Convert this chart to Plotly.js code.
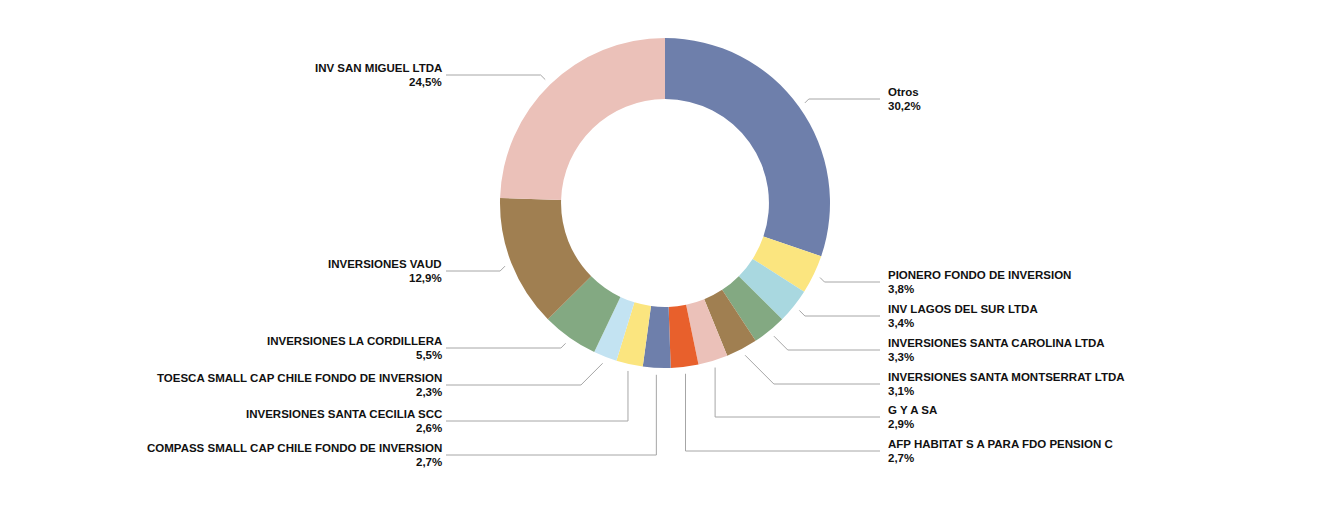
<!DOCTYPE html>
<html>
<head>
<meta charset="utf-8">
<script src="https://cdn.plot.ly/plotly-3.0.1.min.js"></script>
<style>
  html, body { margin: 0; padding: 0; background: #ffffff; }
  #chart { width: 1330px; height: 507px; }
</style>
</head>
<body>
<div id="chart"></div>
<script>
// ---- data ----
const categories = [
  "Otros",
  "PIONERO FONDO DE INVERSION",
  "INV LAGOS DEL SUR LTDA",
  "INVERSIONES SANTA CAROLINA LTDA",
  "INVERSIONES SANTA MONTSERRAT LTDA",
  "G Y A SA",
  "AFP HABITAT S A PARA FDO PENSION C",
  "COMPASS SMALL CAP CHILE FONDO DE INVERSION",
  "INVERSIONES SANTA CECILIA SCC",
  "TOESCA SMALL CAP CHILE FONDO DE INVERSION",
  "INVERSIONES LA CORDILLERA",
  "INVERSIONES VAUD",
  "INV SAN MIGUEL LTDA"
];
const values = [30.2, 3.8, 3.4, 3.3, 3.1, 2.9, 2.7, 2.7, 2.6, 2.3, 5.5, 12.9, 24.5];

// ---- styles / layout ----
const sliceColors = [
  "#6e7fab", "#fbe57f", "#a9d8e0", "#83a982", "#a07f51", "#ebc1b9", "#e8602c",
  "#6e7fab", "#fbe57f", "#c3e3f2", "#83a982", "#a07f51", "#ebc1b9"
];
// vertical pixel centre of each label block (layout choice)
const labelY = [99, 282, 316, 350, 384, 417, 451, 455, 421, 385, 348, 271, 75];

const W = 1330, H = 507;
const CX = 665, CY = 203, R = 165;
const LEAD_R = 172;
const RIGHT_TEXT_X = 887, RIGHT_LINE_END = 880;
const LEFT_TEXT_X = 443, LEFT_LINE_END = 446;
const HALF_LINE = 7;

const px = x => x / W;
const py = y => 1 - y / H;

const total = values.reduce((a, b) => a + b, 0);
const shapes = [];
const annotations = [];
const font = { family: "Liberation Sans, Arial, sans-serif", size: 11.5, color: "#111111" };
let cum = 0;
values.forEach((v, i) => {
  const midDeg = (cum + v / 2) / total * 360;
  cum += v;
  const a = midDeg * Math.PI / 180;
  const sx = CX + LEAD_R * Math.sin(a);
  const sy = CY - LEAD_R * Math.cos(a);
  const right = midDeg < 180;
  const ly = labelY[i];
  const vertical = midDeg > 160 && midDeg < 200;
  const kx = vertical ? sx : sx + (right ? 1 : -1) * Math.abs(ly - sy);
  const ex = right ? RIGHT_LINE_END : LEFT_LINE_END;
  shapes.push({
    type: "path", xref: "paper", yref: "paper",
    path: `M ${px(sx)},${py(sy)} L ${px(kx)},${py(ly)} L ${px(ex)},${py(ly)}`,
    line: { color: "#a6a6a6", width: 1 }
  });
  const pct = v.toFixed(1).replace(".", ",") + "%";
  const base = {
    xref: "paper", yref: "paper",
    x: px(right ? RIGHT_TEXT_X : LEFT_TEXT_X),
    xanchor: right ? "left" : "right", yanchor: "middle",
    align: right ? "left" : "right",
    showarrow: false, borderpad: 0, font: font
  };
  annotations.push(Object.assign({}, base, { y: py(ly - HALF_LINE), text: `<b>${categories[i]}</b>` }));
  annotations.push(Object.assign({}, base, { y: py(ly + HALF_LINE), text: `<b>${pct}</b>` }));
});

const trace = {
  type: "pie",
  labels: categories,
  values: values,
  hole: 0.63,
  sort: false,
  direction: "clockwise",
  rotation: 0,
  textinfo: "none",
  hoverinfo: "label+percent",
  marker: { colors: sliceColors, line: { width: 0 } },
  domain: {
    x: [(CX - R) / W, (CX + R) / W],
    y: [1 - (CY + R) / H, 1 - (CY - R) / H]
  },
  showlegend: false
};

const layout = {
  width: W, height: H,
  margin: { l: 0, r: 0, t: 0, b: 0 },
  paper_bgcolor: "#ffffff",
  plot_bgcolor: "#ffffff",
  showlegend: false,
  shapes: shapes,
  annotations: annotations
};

Plotly.newPlot("chart", [trace], layout, { displayModeBar: false, staticPlot: true });
</script>
</body>
</html>
